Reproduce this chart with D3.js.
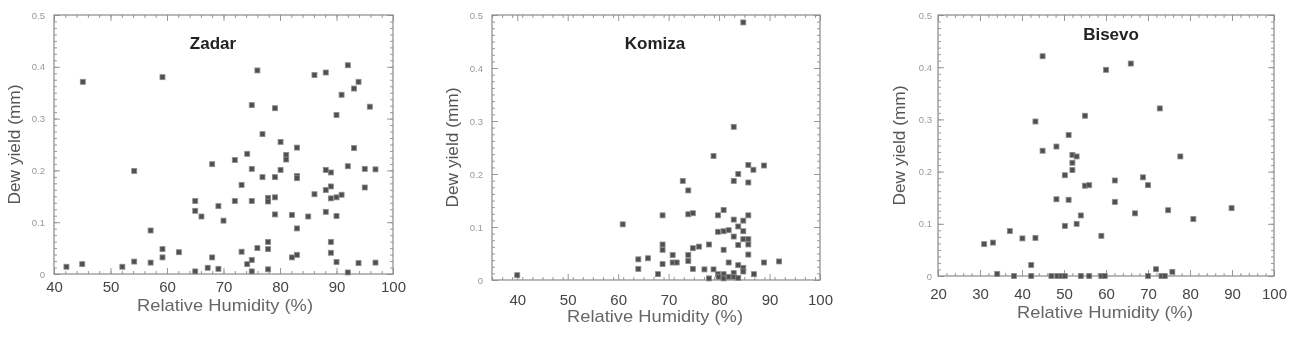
<!DOCTYPE html>
<html>
<head>
<meta charset="utf-8">
<script src="https://cdn.jsdelivr.net/npm/d3@7.9.0/dist/d3.min.js"></script>
<style>
  body { margin: 0; background: #fff; }
  svg { display: block; font-family: "Liberation Sans", Arial, sans-serif; }
</style>
</head>
<body>
<svg id="chart" width="1309" height="337"></svg>
<script>
// Zadar: relative humidity (%) vs dew yield (mm)
const zadarRH = [42.2, 45.0, 45.1, 52.1, 54.2, 54.2, 57.1, 57.1, 59.2, 59.2, 59.2, 62.1, 65.0, 65.0, 65.0,
  66.1, 67.2, 68.0, 68.0, 69.1, 69.1, 70.0, 72.0, 72.0, 73.2, 73.2, 74.2, 74.2, 75.0, 75.0, 75.0, 75.0, 75.0,
  76.0, 76.0, 76.9, 76.9, 77.9, 77.9, 77.9, 77.9, 77.9, 79.1, 79.1, 79.1, 79.1, 80.1, 80.1, 81.1, 81.1,
  82.1, 82.1, 83.0, 83.0, 83.0, 83.0, 83.0, 85.0, 86.1, 86.1, 88.1, 88.1, 88.1, 88.1, 89.0, 89.0, 89.0,
  89.0, 89.0, 90.0, 90.0, 90.0, 90.0, 90.9, 90.9, 92.0, 92.0, 92.0, 93.1, 93.1, 93.9, 93.9, 95.0, 95.0,
  95.9, 96.9, 96.9];
const zadarDew = [0.014, 0.019, 0.371, 0.014, 0.024, 0.199, 0.084, 0.022, 0.380, 0.048, 0.032, 0.042, 0.141, 0.122, 0.005,
  0.111, 0.012, 0.212, 0.032, 0.131, 0.010, 0.103, 0.220, 0.141, 0.172, 0.043, 0.232, 0.019, 0.326, 0.203, 0.141, 0.027, 0.005,
  0.393, 0.050, 0.270, 0.187, 0.147, 0.140, 0.062, 0.048, 0.009, 0.320, 0.187, 0.148, 0.115, 0.255, 0.201, 0.230, 0.221,
  0.114, 0.032, 0.244, 0.189, 0.185, 0.088, 0.037, 0.111, 0.384, 0.154, 0.389, 0.201, 0.162, 0.120, 0.196, 0.169, 0.146,
  0.062, 0.041, 0.307, 0.148, 0.112, 0.023, 0.346, 0.153, 0.403, 0.208, 0.003, 0.358, 0.243, 0.371, 0.021, 0.203, 0.167,
  0.323, 0.202, 0.022];

// Komiza
const komizaRH = [40.0, 60.9, 64.0, 64.0, 65.9, 67.9, 68.8, 68.8, 68.8, 68.8, 70.8, 70.8, 71.6, 72.8, 73.9, 73.9,
  73.9, 73.9, 74.8, 74.8, 74.8, 76.0, 77.1, 78.0, 78.0, 78.9, 78.9, 79.8, 79.8, 79.8, 79.9, 80.9, 80.9, 80.9,
  80.9, 80.9, 81.9, 81.9, 81.9, 82.9, 82.9, 82.9, 82.9, 82.9, 82.9, 83.8, 83.8, 83.8, 83.8, 83.8, 84.8, 84.8,
  84.8, 84.8, 84.8, 84.8, 85.8, 85.8, 85.8, 85.8, 85.8, 85.8, 86.8, 86.9, 88.9, 88.9, 91.9];
const komizaDew = [0.009, 0.105, 0.039, 0.021, 0.041, 0.011, 0.122, 0.067, 0.057, 0.030, 0.047, 0.033, 0.033, 0.187, 0.169, 0.124,
  0.047, 0.036, 0.126, 0.060, 0.021, 0.063, 0.020, 0.067, 0.003, 0.234, 0.020, 0.122, 0.091, 0.011, 0.006, 0.132, 0.092, 0.057,
  0.011, 0.003, 0.094, 0.033, 0.006, 0.289, 0.187, 0.114, 0.082, 0.013, 0.006, 0.200, 0.101, 0.066, 0.028, 0.004, 0.486, 0.112,
  0.092, 0.077, 0.023, 0.016, 0.217, 0.184, 0.122, 0.077, 0.067, 0.048, 0.208, 0.011, 0.216, 0.033, 0.035];

// Bisevo
const bisevoRH = [31.0, 33.1, 34.1, 37.1, 38.1, 40.1, 42.2, 42.2, 43.2, 43.2, 44.9, 44.9, 47.0, 48.2, 48.2, 48.4,
  49.4, 50.2, 50.2, 50.2, 51.1, 51.1, 52.0, 52.0, 52.0, 53.0, 53.0, 54.0, 54.0, 55.0, 55.0, 56.0, 56.0, 58.9,
  58.9, 59.7, 60.0, 62.1, 62.1, 65.9, 66.9, 68.8, 70.0, 70.0, 71.9, 72.8, 73.2, 74.0, 74.8, 75.8, 77.7, 80.8, 89.9];
const bisevoDew = [0.061, 0.064, 0.004, 0.086, 0.000, 0.072, 0.021, 0.000, 0.073, 0.296, 0.421, 0.240, 0.000, 0.248, 0.147, 0.000,
  0.000, 0.193, 0.096, 0.000, 0.270, 0.146, 0.232, 0.217, 0.203, 0.229, 0.100, 0.116, 0.000, 0.307, 0.173, 0.174, 0.000, 0.077,
  0.000, 0.000, 0.395, 0.183, 0.142, 0.407, 0.120, 0.189, 0.174, 0.000, 0.013, 0.321, 0.000, 0.000, 0.126, 0.008, 0.229, 0.109, 0.130];

const yTickValues = [0, 0.1, 0.2, 0.3, 0.4, 0.5];

// panel layout
const panels = [
  { name: 'Zadar', rh: zadarRH, dew: zadarDew, x0: 54, x1: 393, y0: 15, y1: 274, dom: [40, 100],
    xt: [40, 50, 60, 70, 80, 90, 100], xPad: 7, yPad: 9, titleX: 213, titleY: 49, xLabX: 225, xLabY: 311, yLabX: 20 },
  { name: 'Komiza', rh: komizaRH, dew: komizaDew, x0: 492, x1: 820, y0: 15, y1: 280, dom: [35, 100],
    xt: [40, 50, 60, 70, 80, 90, 100], xPad: 14, yPad: 9, titleX: 655, titleY: 49, xLabX: 655, xLabY: 322, yLabX: 458 },
  { name: 'Bisevo', rh: bisevoRH, dew: bisevoDew, x0: 938, x1: 1274, y0: 15, y1: 276, dom: [20, 100],
    xt: [20, 30, 40, 50, 60, 70, 80, 90, 100], xPad: 12, yPad: 6, titleX: 1111, titleY: 40, xLabX: 1105, xLabY: 318, yLabX: 905 }
];

const svg = d3.select('#chart');
svg.append('defs').append('filter').attr('id', 'soft')
  .append('feGaussianBlur').attr('stdDeviation', 0.5);

const root = svg.append('g').attr('filter', 'url(#soft)');

panels.forEach(p => {
  const x = d3.scaleLinear().domain(p.dom).range([p.x0, p.x1]);
  const y = d3.scaleLinear().domain([0, 0.5]).range([p.y1, p.y0]);
  const g = root.append('g');

  // minor ticks on all sides
  const xMinor = d3.range(p.dom[0], p.dom[1] + 0.001, 2);
  const yMinor = d3.range(0, 0.5001, 0.0125);
  g.append('g').attr('transform', `translate(0,${p.y1})`)
    .call(d3.axisBottom(x).tickValues(xMinor).tickSize(-3).tickFormat(''));
  g.append('g').attr('transform', `translate(0,${p.y0})`)
    .call(d3.axisTop(x).tickValues(xMinor).tickSize(-3).tickFormat(''));
  g.append('g').attr('transform', `translate(${p.x0},0)`)
    .call(d3.axisLeft(y).tickValues(yMinor).tickSize(-3).tickFormat(''));
  g.append('g').attr('transform', `translate(${p.x1},0)`)
    .call(d3.axisRight(y).tickValues(yMinor).tickSize(-3).tickFormat(''));

  // major ticks + labels
  g.append('g').attr('class', 'xax').attr('transform', `translate(0,${p.y1})`)
    .call(d3.axisBottom(x).tickValues(p.xt).tickSizeInner(-6).tickSizeOuter(0).tickPadding(p.xPad).tickFormat(d3.format('d')));
  g.append('g').attr('transform', `translate(0,${p.y0})`)
    .call(d3.axisTop(x).tickValues(p.xt).tickSizeInner(-6).tickSizeOuter(0).tickFormat(''));
  g.append('g').attr('class', 'yax').attr('transform', `translate(${p.x0},0)`)
    .call(d3.axisLeft(y).tickValues(yTickValues).tickSizeInner(-6).tickSizeOuter(0).tickPadding(p.yPad)
      .tickFormat(d => d === 0 ? '0' : d3.format('.1f')(d)));
  g.append('g').attr('transform', `translate(${p.x1},0)`)
    .call(d3.axisRight(y).tickValues(yTickValues).tickSizeInner(-6).tickSizeOuter(0).tickFormat(''));

  g.selectAll('.domain').attr('stroke', 'none');
  g.selectAll('.tick line').attr('stroke', '#999').attr('stroke-width', 1);
  g.selectAll('.xax text').attr('font-size', 15).attr('fill', '#444');
  g.selectAll('.yax text').attr('font-size', 9.5).attr('fill', '#999');

  // frame
  g.append('rect')
    .attr('x', p.x0).attr('y', p.y0)
    .attr('width', p.x1 - p.x0).attr('height', p.y1 - p.y0)
    .attr('fill', 'none').attr('stroke', '#8a8a8a').attr('stroke-width', 1.2);

  // points
  g.append('g').selectAll('rect')
    .data(p.rh.map((v, i) => [v, p.dew[i]]))
    .join('rect')
    .attr('x', d => x(d[0]) - 2.5)
    .attr('y', d => y(d[1]) - 2.5)
    .attr('width', 5).attr('height', 5)
    .attr('fill', '#505050')
    .attr('stroke', '#8c8c8c')
    .attr('stroke-width', 0.8);

  // station label
  g.append('text')
    .attr('x', p.titleX).attr('y', p.titleY)
    .attr('text-anchor', 'middle')
    .attr('font-size', 17).attr('font-weight', 'bold').attr('fill', '#222')
    .text(p.name);

  // axis titles
  g.append('text')
    .attr('x', p.xLabX).attr('y', p.xLabY)
    .attr('text-anchor', 'middle')
    .attr('font-size', 17).attr('fill', '#666')
    .attr('textLength', 176).attr('lengthAdjust', 'spacingAndGlyphs')
    .text('Relative Humidity (%)');

  g.append('text')
    .attr('transform', `translate(${p.yLabX},${(p.y0 + p.y1) / 2}) rotate(-90)`)
    .attr('text-anchor', 'middle')
    .attr('font-size', 16).attr('fill', '#555')
    .attr('textLength', 120).attr('lengthAdjust', 'spacingAndGlyphs')
    .text('Dew yield (mm)');
});
</script>
</body>
</html>
